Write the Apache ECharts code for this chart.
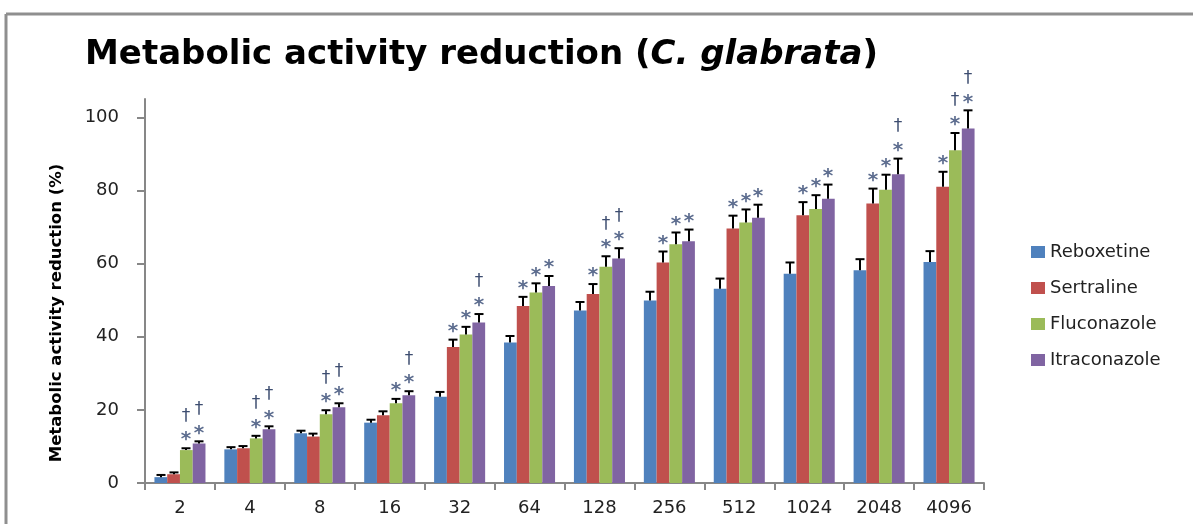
<!DOCTYPE html>
<html>
<head>
<meta charset="utf-8">
<script src="https://cdn.jsdelivr.net/npm/echarts@6/dist/echarts.min.js"></script>
<style>
html,body{margin:0;padding:0;background:#fff;}
#chart{width:1193px;height:524px;}
</style>
</head>
<body>
<div id="chart"></div>
<script>
const categories = ['2','4','8','16','32','64','128','256','512','1024','2048','4096'];
const yTicks = [0, 20, 40, 60, 80, 100];

const reboxetine    = [1.6, 9.2, 13.6, 16.5, 23.6, 38.4, 47.2, 49.9, 53.1, 57.2, 58.2, 60.4];
const reboxetineErr = [0.6, 0.6, 0.7, 0.8, 1.3, 1.8, 2.3, 2.4, 2.8, 3.1, 3.0, 3.0];
const reboxetineSig = ['', '', '', '', '', '', '', '', '', '', '', ''];

const sertraline    = [2.4, 9.5, 12.7, 18.5, 37.2, 48.4, 51.7, 60.3, 69.6, 73.2, 76.4, 81.0];
const sertralineErr = [0.5, 0.6, 0.8, 1.1, 2.0, 2.5, 2.7, 3.0, 3.5, 3.6, 4.1, 4.1];
const sertralineSig = ['', '', '', '', '*', '*', '*', '*', '*', '*', '*', '*'];

const fluconazole    = [9.0, 12.2, 18.8, 21.8, 40.6, 52.1, 59.1, 65.3, 71.2, 74.9, 80.2, 91.0];
const fluconazoleErr = [0.5, 0.7, 1.1, 1.2, 2.1, 2.5, 2.9, 3.2, 3.6, 3.8, 4.1, 4.7];
const fluconazoleSig = ['*†', '*†', '*†', '*', '*', '*', '*†', '*', '*', '*', '*', '*†'];

const itraconazole    = [10.8, 14.7, 20.7, 24.0, 43.9, 53.9, 61.4, 66.1, 72.5, 77.7, 84.4, 96.9];
const itraconazoleErr = [0.6, 0.8, 1.1, 1.1, 2.3, 2.7, 2.8, 3.2, 3.6, 3.9, 4.3, 5.0];
const itraconazoleSig = ['*†', '*†', '*†', '*†', '*†', '*', '*†', '*', '*', '*', '*†', '*†'];

const seriesNames = ['Reboxetine', 'Sertraline', 'Fluconazole', 'Itraconazole'];
const seriesColors = ['#4F81BD', '#C0504D', '#9BBB59', '#8064A2'];
const seriesValues = [reboxetine, sertraline, fluconazole, itraconazole];
const seriesErrs = [reboxetineErr, sertralineErr, fluconazoleErr, itraconazoleErr];
const seriesSigs = [reboxetineSig, sertralineSig, fluconazoleSig, itraconazoleSig];

const GAP = 0.27;
const FONT = 'DejaVu Sans';

const chart = echarts.init(document.getElementById('chart'), null, {renderer: 'canvas'});

const barSeries = seriesNames.map((name, k) => ({
  name: name,
  type: 'bar',
  barGap: '0%',
  barCategoryGap: (GAP * 100) + '%',
  itemStyle: {color: seriesColors[k]},
  data: seriesValues[k],
  z: 2
}));

const errSeries = seriesNames.map((name, k) => ({
  name: name + ' SEM',
  type: 'custom',
  z: 5,
  data: seriesValues[k].map((v, i) => [i, v, seriesErrs[k][i]]),
  encode: {x: 0, y: 1},
  renderItem: function (params, api) {
    const ci = api.value(0), v = api.value(1), e = api.value(2);
    const band = api.size([1, 0])[0];
    const groupW = band * (1 - GAP);
    const bw = groupW / 4;
    const base = api.coord([ci, v]);
    const x = Math.round(base[0] - groupW / 2 + bw * (k + 0.5));
    const yv = base[1];
    const top = api.coord([ci, v + e])[1];
    const children = [
      {type: 'line', shape: {x1: x, y1: yv, x2: x, y2: top}, style: {stroke: '#000', lineWidth: 2}},
      {type: 'line', shape: {x1: x - 4.5, y1: top, x2: x + 4.5, y2: top}, style: {stroke: '#000', lineWidth: 2}}
    ];
    const sig = seriesSigs[k][params.dataIndex] || '';
    if (sig.indexOf('*') >= 0) {
      children.push({type: 'text', x: x, y: top - 8,
        style: {text: '*', fill: '#5d6d8f', font: 'bold 20px "' + FONT + '"', align: 'center', verticalAlign: 'middle'}});
    }
    if (sig.indexOf('†') >= 0) {
      children.push({type: 'text', x: x, y: top - 32,
        style: {text: '†', fill: '#3d4d70', font: '17px "' + FONT + '"', align: 'center', verticalAlign: 'middle'}});
    }
    return {type: 'group', children: children};
  }
}));

const option = {
  animation: false,
  backgroundColor: '#ffffff',
  title: {
    text: '{n|Metabolic activity reduction (}{i|C. glabrata}{n|)}',
    left: 80,
    top: 33,
    textStyle: {
      rich: {
        n: {fontFamily: FONT, fontWeight: 'bold', fontSize: 34, color: '#000'},
        i: {fontFamily: FONT, fontWeight: 'bold', fontStyle: 'italic', fontSize: 34, color: '#000'}
      }
    }
  },
  legend: {
    orient: 'vertical',
    left: 1026,
    top: 238,
    itemWidth: 14,
    itemHeight: 12,
    itemGap: 18,
    icon: 'rect',
    data: seriesNames,
    textStyle: {fontFamily: FONT, fontSize: 18, color: '#222', lineHeight: 18}
  },
  grid: {left: 145, right: 209, top: 99, bottom: 41, containLabel: false},
  xAxis: {
    type: 'category',
    data: categories,
    boundaryGap: true,
    axisLine: {lineStyle: {color: '#878787', width: 2}},
    axisTick: {show: true, length: 7, lineStyle: {color: '#878787', width: 2}},
    axisLabel: {fontFamily: FONT, fontSize: 18, color: '#222', margin: 16, interval: 0}
  },
  yAxis: {
    type: 'value',
    min: 0,
    max: 105,
    interval: 20,
    splitLine: {show: false},
    axisLine: {show: true, lineStyle: {color: '#878787', width: 2}},
    axisTick: {show: true, length: 8, customValues: yTicks, lineStyle: {color: '#878787', width: 2}},
    axisLabel: {fontFamily: FONT, fontSize: 18, color: '#222', margin: 26, customValues: yTicks}
  },
  graphic: [
    {type: 'line', shape: {x1: 6, y1: 14, x2: 1193, y2: 14}, style: {stroke: '#8f8f8f', lineWidth: 3}},
    {type: 'line', shape: {x1: 6, y1: 14, x2: 6, y2: 524}, style: {stroke: '#8f8f8f', lineWidth: 3}},
    {type: 'text', x: 57, y: 313, rotation: Math.PI / 2,
      style: {text: 'Metabolic activity reduction (%)', font: 'bold 16.5px "' + FONT + '"', fill: '#000', align: 'center', verticalAlign: 'middle'}}
  ],
  series: barSeries.concat(errSeries)
};
chart.setOption(option);
</script>
</body>
</html>
